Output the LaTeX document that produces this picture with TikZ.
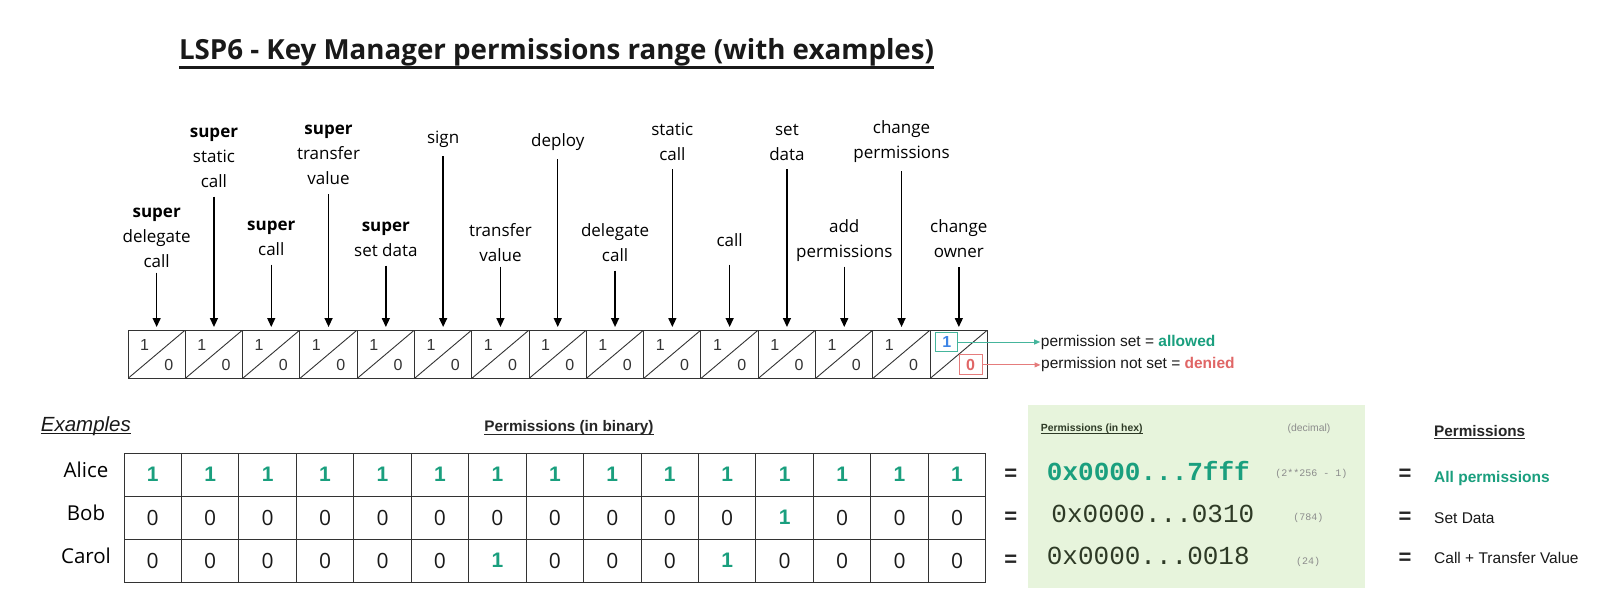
\documentclass[tikz,border=0pt]{standalone}
\usepackage{fontspec}
\usepackage{xcolor}
\usetikzlibrary{matrix,
	positioning,
	arrows.meta}
\newfontfamily\osfam{Open Sans}
\newfontfamily\arialfam{Liberation Sans}
\newfontfamily\hexfam{Liberation Mono}
\definecolor{okgreen}{HTML}{1A9F7E}
\definecolor{nored}{HTML}{E06666}
\definecolor{setblue}{HTML}{3D85E6}
\definecolor{tealline}{HTML}{45B59C}
\definecolor{redline}{HTML}{E57C7C}
\definecolor{hexbg}{HTML}{E7F4DC}
\definecolor{hexdark}{HTML}{2E3A26}
\definecolor{notegray}{HTML}{8C8C8C}
\definecolor{linegray}{HTML}{333333}
\newcommand\titlefont{\osfam\bfseries\fontsize{27.7}{30}\selectfont}
\newcommand\labfont{\osfam\fontsize{17}{25}\selectfont}
\newcommand\bitfont{\arialfam\fontsize{16}{18}\selectfont}
\newcommand\legfont{\arialfam\fontsize{15.5}{18}\selectfont}
\newcommand\headfont{\arialfam\bfseries\fontsize{15.3}{18}\selectfont}
\newcommand\whofont{\osfam\fontsize{20.5}{24}\selectfont}
\newcommand\eqfont{\arialfam\bfseries\fontsize{22}{24}\selectfont}
\newcommand\hexfont{\hexfam\fontsize{26}{28}\selectfont}
\newcommand\notefont{\hexfam\fontsize{10}{12}\selectfont}
\newcommand\smallfont{\arialfam\fontsize{10.4}{12}\selectfont}
\tikzstyle{lbl}=[font=\labfont, align=center, inner sep=0]
\tikzstyle{arr}=[-{Triangle[length=9pt,width=8pt]}, line width=1.4pt, shorten <=9pt, shorten >=2.5pt]
\tikzstyle{legarr}=[-{Triangle[length=6pt,width=5pt]}, line width=1pt]
\tikzstyle{pbox}=[draw=linegray, line width=1pt, minimum width=57.3pt, minimum height=48.4pt, inner sep=0,
		path picture={\draw[linegray, line width=0.9pt] (path picture bounding box.south west) -- (path picture bounding box.north east);}]
\tikzstyle{bit}=[font=\bitfont, text=linegray, anchor=center, inner sep=0]
\tikzstyle{pcell}=[pbox, label={[bit, xshift=17pt, yshift=-15pt]north west:1},
		label={[bit, xshift=-17pt, yshift=14.4pt]south east:0}]
\tikzstyle{setbox}=[draw=tealline, line width=1pt, minimum width=22pt, minimum height=19pt, inner sep=0,
		text=setblue, font=\bitfont\bfseries]
\tikzstyle{unsetbox}=[draw=redline, line width=1pt, minimum width=23pt, minimum height=20pt, inner sep=0,
		text=nored, font=\bitfont\bfseries]
\tikzstyle{legend}=[font=\legfont, text=black!90, inner sep=0.5pt, anchor=west]
\tikzstyle{bcell}=[draw=linegray, line width=1pt, minimum width=57.45pt, minimum height=43.1pt, inner sep=0]
\tikzstyle{b1}=[bcell, text=okgreen, font=\arialfam\bfseries\fontsize{21}{21}\selectfont]
\tikzstyle{b0}=[bcell, text=black!90, font=\osfam\fontsize{21}{21}\selectfont]
\tikzstyle{who}=[font=\whofont, inner sep=0]
\tikzstyle{eq}=[font=\eqfont, text=black!85, inner sep=0]
\tikzstyle{head}=[font=\headfont, text=black!85, inner sep=0]
\tikzstyle{hexval}=[font=\hexfont, text=hexdark, inner sep=0]
\tikzstyle{note}=[font=\notefont, text=notegray, inner sep=0, anchor=base]
\tikzstyle{perm}=[font=\legfont, text=black!90, inner sep=0, anchor=base west]

\begin{document}
\begin{tikzpicture}[x=1pt, y=-1pt]
	\path[fill=white, use as bounding box] (0,0) rectangle (1623,615);

	\node[font=\titlefont, text=black!90, inner sep=0, anchor=base] (title) at (556.5,60)
		{LSP6 - Key Manager permissions range (with examples)};
	\draw[black!90, line width=2.6pt] ([yshift=-7.5pt]title.base west) -- ([yshift=-7.5pt]title.base east);

	\matrix (bits) [matrix anchor=north west, inner sep=0pt, column sep=-1pt, ampersand replacement=\&] at (127.3,329.3) {
		\node[pcell] (p1) {}; \& \node[pcell] (p2) {}; \& \node[pcell] (p3) {}; \& \node[pcell] (p4) {}; \& \node[pcell] (p5) {}; \&
		\node[pcell] (p6) {}; \& \node[pcell] (p7) {}; \& \node[pcell] (p8) {}; \& \node[pcell] (p9) {}; \& \node[pcell] (p10) {}; \&
		\node[pcell] (p11) {}; \& \node[pcell] (p12) {}; \& \node[pcell] (p13) {}; \& \node[pcell] (p14) {}; \& \node[pbox] (p15) {}; \\
	};

	\node[lbl, above=62pt of p1] (l1) {\textbf{super}\\delegate\\call};
	\node[lbl, above=142pt of p2] (l2) {\textbf{super}\\static\\call};
	\node[lbl, above=74pt of p3] (l3) {\textbf{super}\\call};
	\node[lbl, above=144.5pt of p4] (l4) {\textbf{super}\\transfer\\value};
	\node[lbl, above=73pt of p5] (l5) {\textbf{super}\\set data};
	\node[lbl, above=182pt of p6] (l6) {sign};
	\node[lbl, above=68pt of p7] (l7) {transfer\\value};
	\node[lbl, above=179pt of p8] (l8) {deploy};
	\node[lbl, above=68pt of p9] (l9) {delegate\\call};
	\node[lbl, above=169pt of p10] (l10) {static\\call};
	\node[lbl, above=83pt of p11] (l11) {call};
	\node[lbl, above=169pt of p12] (l12) {set\\data};
	\node[lbl, above=68pt of p13] (l13) {add\\permissions};
	\node[lbl, above=167pt of p14] (l14) {change\\permissions};
	\node[lbl, above=71.5pt of p15] (l15) {change\\owner};

	\draw[arr, shorten <=5pt] (l1) -- (p1);
	\draw[arr] (l2) -- (p2);
	\draw[arr] (l3) -- (p3);
	\draw[arr] (l4) -- (p4);
	\draw[arr] (l5) -- (p5);
	\draw[arr] (l6) -- (p6);
	\draw[arr, shorten <=5pt] (l7) -- (p7);
	\draw[arr] (l8) -- (p8);
	\draw[arr] (l9) -- (p9);
	\draw[arr] (l10) -- (p10);
	\draw[arr, shorten <=18pt] (l11) -- (p11);
	\draw[arr] (l12) -- (p12);
	\draw[arr, shorten <=5pt] (l13) -- (p13);
	\draw[arr] (l14) -- (p14);
	\draw[arr] (l15) -- (p15);

	\node[setbox] (setbit) at ([xshift=17pt,yshift=-12.5pt]p15.north west) {1};
	\node[unsetbox] (unsetbit) at ([xshift=-17.5pt,yshift=14pt]p15.south east) {0};
	\node[legend, right=82pt of setbit] (allowed) {permission set = \textbf{\color{okgreen}allowed}};
	\node[legend, right=58pt of unsetbit] (denied) {permission not set = \textbf{\color{nored}denied}};
	\draw[legarr, tealline] (setbit) -- (allowed);
	\draw[legarr, redline] (unsetbit) -- (denied);

	\node[font=\arialfam\itshape\fontsize{20.5}{24}\selectfont, text=black!90, inner sep=0, anchor=base west] (examples) at (40.7,431) {Examples};
	\draw[black!90, line width=1.3pt] ([yshift=-2.5pt]examples.base west) -- ([yshift=-2.5pt]examples.base east);
	\node[head, anchor=base] (binhead) at (569,431.5) {Permissions (in binary)};
	\draw[black!85, line width=1.2pt] ([yshift=-2.6pt]binhead.base west) -- ([yshift=-2.6pt]binhead.base east);

	\matrix (bin) [matrix anchor=north west, inner sep=0pt, column sep=-1pt, row sep=-1pt, ampersand replacement=\&] at (123.3,452.3) {
		\node[b1] {1}; \& \node[b1] {1}; \& \node[b1] {1}; \& \node[b1] {1}; \& \node[b1] {1}; \& \node[b1] {1}; \& \node[b1] {1}; \& \node[b1] {1}; \&
		\node[b1] {1}; \& \node[b1] {1}; \& \node[b1] {1}; \& \node[b1] {1}; \& \node[b1] {1}; \& \node[b1] {1}; \& \node[b1] (aend) {1}; \\
		\node[b0] {0}; \& \node[b0] {0}; \& \node[b0] {0}; \& \node[b0] {0}; \& \node[b0] {0}; \& \node[b0] {0}; \& \node[b0] {0}; \& \node[b0] {0}; \&
		\node[b0] {0}; \& \node[b0] {0}; \& \node[b0] {0}; \& \node[b1] {1}; \& \node[b0] {0}; \& \node[b0] {0}; \& \node[b0] (bend) {0}; \\
		\node[b0] {0}; \& \node[b0] {0}; \& \node[b0] {0}; \& \node[b0] {0}; \& \node[b0] {0}; \& \node[b0] {0}; \& \node[b1] {1}; \& \node[b0] {0}; \&
		\node[b0] {0}; \& \node[b0] {0}; \& \node[b1] {1}; \& \node[b0] {0}; \& \node[b0] {0}; \& \node[b0] {0}; \& \node[b0] (cend) {0}; \\
	};

	\node[who] (alice) at (86,470) {Alice};
	\node[who] (bob) at (86,513) {Bob};
	\node[who] (carol) at (86,556) {Carol};

	\node[eq, right=18pt of aend] (eqa) {=};
	\node[eq, right=18pt of bend] (eqb) {=};
	\node[eq, right=18pt of cend] (eqc) {=};

	\node[fill=hexbg, minimum width=337pt, minimum height=183pt, inner sep=0] (hexpanel) at (1196.5,496.5) {};
	\node[font=\smallfont\bfseries, text=hexdark, inner sep=0, anchor=base west] (hexhead) at (1040.7,431.5) {Permissions (in hex)};
	\draw[hexdark, line width=0.8pt] ([yshift=-1.8pt]hexhead.base west) -- ([yshift=-1.8pt]hexhead.base east);
	\node[font=\smallfont, text=notegray, inner sep=0, anchor=base] (dechead) at (1309,431.5) {(decimal)};

	\node[hexval, text=okgreen, font=\hexfont\bfseries] (hexa) at (1148.4,470.9) {0x0000...7fff};
	\node[hexval] (hexb) at (1152.9,513.9) {0x0000...0310};
	\node[hexval] (hexc) at (1148.3,555.9) {0x0000...0018};
	\node[note] (deca) at (1311.3,476.5) {(2**256 - 1)};
	\node[note] (decb) at (1308.3,520) {(784)};
	\node[note] (decc) at (1308,564) {(24)};

	\node[head, anchor=base west] (permhead) at (1434,436.5) {Permissions};
	\draw[black!85, line width=1.2pt] ([yshift=-2pt]permhead.base west) -- ([yshift=-2pt]permhead.base east);
	\node[eq] (eqd) at (1405,475) {=};
	\node[eq] (eqe) at (1405,517.7) {=};
	\node[eq] (eqf) at (1405,558.3) {=};
	\node[perm, text=okgreen, font=\legfont\bfseries] (allperm) at (1434,482.3) {All permissions};
	\node[perm] (setdata) at (1434,523.3) {Set Data};
	\node[perm] (calltv) at (1434,563.3) {Call + Transfer Value};
\end{tikzpicture}
\end{document}
